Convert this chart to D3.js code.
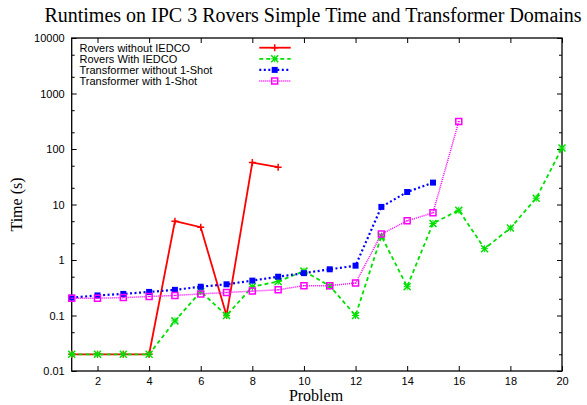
<!DOCTYPE html>
<html>
<head>
<meta charset="utf-8">
<script src="https://cdn.jsdelivr.net/npm/d3@7"></script>
<style>
  body { margin: 0; background: #fff; }
  svg { display: block; }
  .tick text { font-family: "Liberation Sans", Arial, sans-serif; font-size: 11px; fill: #000; }
  .domain { display: none; }
</style>
</head>
<body>
<div id="chart"></div>
<script>
// data
var problems = [1, 2, 3, 4, 5, 6, 7, 8, 9, 10, 11, 12, 13, 14, 15, 16, 17, 18, 19, 20];
var roversWithout = [0.02, 0.02, 0.02, 0.02, 5.0, 3.9, 0.1, 57, 47];
var roversWith = [0.02, 0.02, 0.02, 0.02, 0.08, 0.27, 0.1, 0.33, 0.41, 0.63, 0.34, 0.1, 2.7, 0.33, 4.55, 7.9, 1.6, 3.76, 13, 104];
var transWithout = [0.21, 0.23, 0.245, 0.266, 0.29, 0.33, 0.365, 0.425, 0.5, 0.58, 0.68, 0.79, 9.05, 16.8, 24.8];
var transWith = [0.205, 0.205, 0.21, 0.22, 0.23, 0.245, 0.26, 0.275, 0.29, 0.345, 0.345, 0.385, 2.93, 5.08, 7.07, 314];
var seriesNames = ["Rovers without IEDCO", "Rovers With IEDCO", "Transformer without 1-Shot", "Transformer with 1-Shot"];
var xTicks = [2, 4, 6, 8, 10, 12, 14, 16, 18, 20];
var yTicks = [0.01, 0.1, 1, 10, 100, 1000, 10000];
var yTickLabels = ["0.01", "0.1", "1", "10", "100", "1000", "10000"];

var width = 587, height = 405;
var plot = { left: 71.7, right: 562, top: 38, bottom: 371 };

var svg = d3.select('#chart').append('svg')
	.attr('width', width)
	.attr('height', height);

var x = d3.scaleLinear().domain([1, 20]).range([plot.left, plot.right]);
var y = d3.scaleLog().domain([0.01, 10000]).range([plot.bottom, plot.top]);

// minor ticks at 2 and 5 of every decade
var minor = [];
yTicks.slice(0, -1).forEach(function (d) { minor.push(d * 2, d * 5); });

// axes, ticks drawn inward like gnuplot
svg.append('g').attr('transform', 'translate(0,' + plot.bottom + ')')
	.call(d3.axisBottom(x).tickValues(xTicks).tickSize(-5).tickPadding(6).tickFormat(d3.format('d')));
svg.append('g').attr('transform', 'translate(0,' + plot.top + ')')
	.call(d3.axisTop(x).tickValues(xTicks).tickSize(-5).tickFormat(''));
svg.append('g').attr('transform', 'translate(' + plot.left + ',0)')
	.call(d3.axisLeft(y).tickValues(yTicks).tickSize(-5).tickPadding(7)
		.tickFormat(function (d, i) { return yTickLabels[i]; }));
svg.append('g').attr('transform', 'translate(' + plot.left + ',0)')
	.call(d3.axisLeft(y).tickValues(minor).tickSize(-3).tickFormat(''));
svg.append('g').attr('transform', 'translate(' + plot.right + ',0)')
	.call(d3.axisRight(y).tickValues(yTicks).tickSize(-5).tickFormat(''));
svg.append('g').attr('transform', 'translate(' + plot.right + ',0)')
	.call(d3.axisRight(y).tickValues(minor).tickSize(-3).tickFormat(''));
svg.selectAll('.tick line').attr('stroke', '#000').attr('stroke-width', 1);

// frame
svg.append('rect')
	.attr('x', plot.left).attr('y', plot.top)
	.attr('width', plot.right - plot.left).attr('height', plot.bottom - plot.top)
	.attr('fill', 'none').attr('stroke', '#000').attr('stroke-width', 1.3);

// titles
svg.append('text').attr('x', 313).attr('y', 22)
	.attr('text-anchor', 'middle')
	.style('font-family', '"Liberation Serif", "Times New Roman", serif')
	.style('font-size', '20px')
	.text('Runtimes on IPC 3 Rovers Simple Time and Transformer Domains');
svg.append('text').attr('x', 316).attr('y', 401)
	.attr('text-anchor', 'middle')
	.style('font-family', '"Liberation Serif", "Times New Roman", serif')
	.style('font-size', '16px')
	.text('Problem');
svg.append('text')
	.attr('transform', 'translate(22,' + ((plot.top + plot.bottom) / 2) + ') rotate(-90)')
	.attr('text-anchor', 'middle')
	.style('font-family', '"Liberation Serif", "Times New Roman", serif')
	.style('font-size', '16px')
	.text('Time (s)');

// marker shapes
var s = 3.5;
var markers = {
	plus: 'M' + (-s) + ',0H' + s + 'M0,' + (-s) + 'V' + s,
	cross: 'M' + (-s) + ',' + (-s) + 'L' + s + ',' + s + 'M' + (-s) + ',' + s + 'L' + s + ',' + (-s),
	square: 'M-3,-3H3V3H-3Z',
	opensq: 'M-3,-3H3V3H-3Z'
};

var series = [
	{ name: seriesNames[0], values: roversWithout, color: '#ff0000', dash: null, width: 1.8, marker: 'plus' },
	{ name: seriesNames[1], values: roversWith, color: '#00e000', dash: '4,3', width: 1.8, marker: 'cross' },
	{ name: seriesNames[2], values: transWithout, color: '#0000ff', dash: '2,2.5', width: 2.2, marker: 'square' },
	{ name: seriesNames[3], values: transWith, color: '#ff00ff', dash: '1,1', width: 1.5, marker: 'opensq' }
];

var line = d3.line()
	.x(function (d, i) { return x(problems[i]); })
	.y(function (d) { return y(d); });

function drawMarker(g, m, color) {
	if (m === 'square') {
		g.append('path').attr('d', markers[m]).attr('fill', color);
	} else if (m === 'opensq') {
		g.append('path').attr('d', markers[m]).attr('fill', 'none').attr('stroke', color).attr('stroke-width', 1.5);
		g.append('rect').attr('x', -1).attr('y', -0.5).attr('width', 2).attr('height', 1).attr('fill', color);
	} else {
		g.append('path').attr('d', markers[m]).attr('fill', 'none').attr('stroke', color).attr('stroke-width', 1.5);
		if (m === 'cross') {
			g.append('path').attr('d', markers.plus).attr('fill', 'none').attr('stroke', color).attr('stroke-width', 1);
		}
	}
}

series.forEach(function (d, k) {
	svg.append('path')
		.datum(d.values)
		.attr('d', line)
		.attr('fill', 'none')
		.attr('stroke', d.color)
		.attr('stroke-width', d.width)
		.attr('stroke-dasharray', d.dash);

	svg.append('g').selectAll('g')
		.data(d.values)
		.enter()
		.append('g')
		.attr('transform', function (v, i) { return 'translate(' + x(problems[i]) + ',' + y(v) + ')'; })
		.each(function () { drawMarker(d3.select(this), d.marker, d.color); });

	// legend
	var ly = 47.7 + k * 11.1;
	svg.append('text').attr('x', 79.5).attr('y', ly + 4)
		.style('font-family', '"Liberation Sans", Arial, sans-serif')
		.style('font-size', '11px')
		.text(d.name);
	svg.append('line')
		.attr('x1', 259.3).attr('x2', 290.7).attr('y1', ly).attr('y2', ly)
		.attr('stroke', d.color)
		.attr('stroke-width', d.width)
		.attr('stroke-dasharray', d.dash);
	drawMarker(svg.append('g').attr('transform', 'translate(274.7,' + ly + ')'), d.marker, d.color);
});
</script>
</body>
</html>
